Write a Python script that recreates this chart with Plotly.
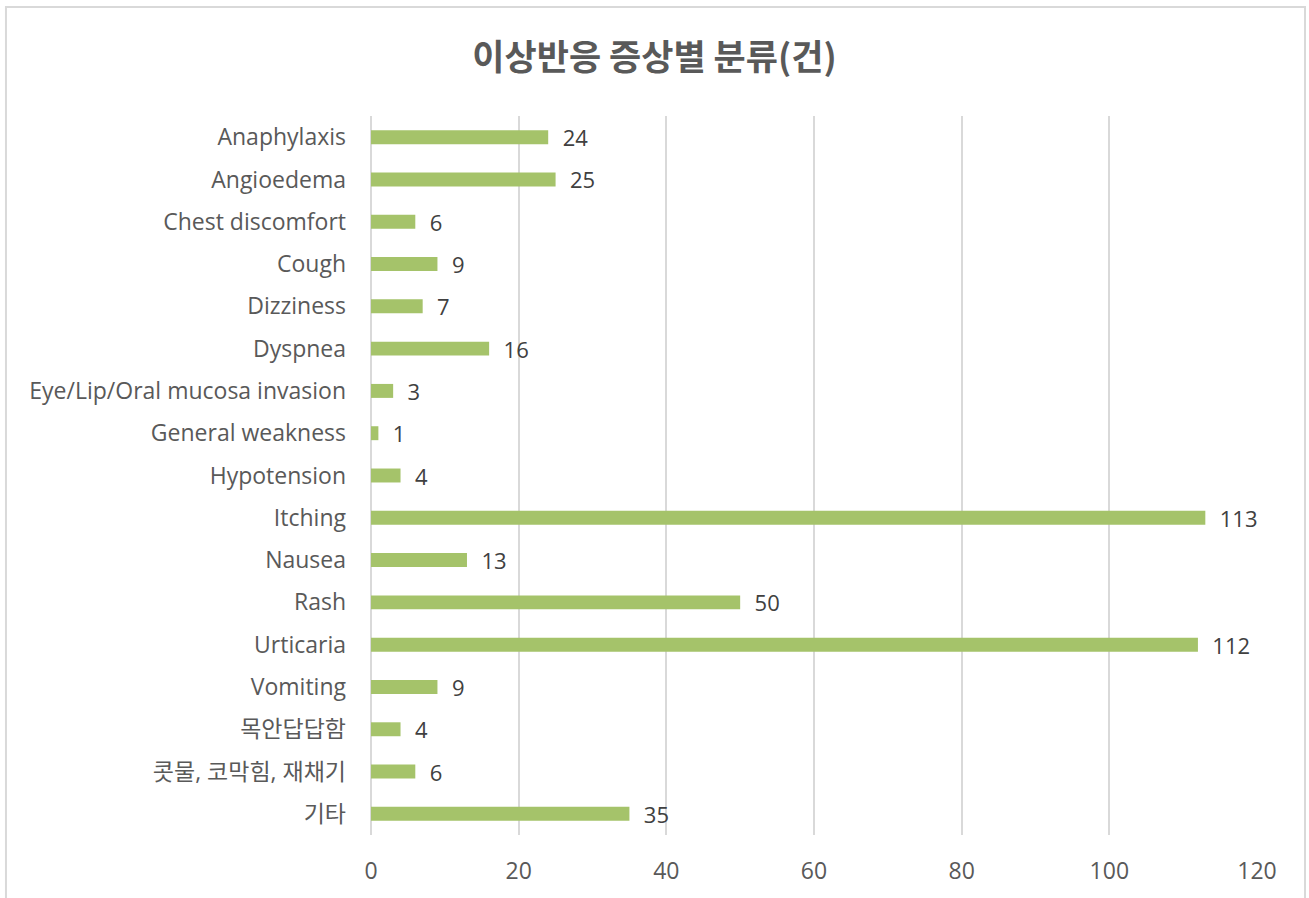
import plotly.graph_objects as go

# symptom categories (top to bottom) and counts
categories = ["Anaphylaxis", "Angioedema", "Chest discomfort", "Cough", "Dizziness",
              "Dyspnea", "Eye/Lip/Oral mucosa invasion", "General weakness", "Hypotension",
              "Itching", "Nausea", "Rash", "Urticaria", "Vomiting", "목안답답함",
              "콧물, 코막힘, 재채기", "기타"]
counts = [24, 25, 6, 9, 7, 16, 3, 1, 4, 113, 13, 50, 112, 9, 4, 6, 35]
x_ticks = [0, 20, 40, 60, 80, 100, 120]

font_family = "Open Sans, Noto Sans CJK KR, sans-serif"

fig = go.Figure()
fig.add_trace(go.Bar(
    y=categories, x=counts, orientation="h",
    marker=dict(color="#A5C36A", line=dict(width=0)),
    width=0.33,
    text=counts, texttemplate="  %{text}", textposition="outside",
    textfont=dict(size=22, color="#404040", family=font_family),
    constraintext="none", cliponaxis=False,
))

fig.update_yaxes(autorange="reversed", showgrid=False, zeroline=False,
                 tickfont=dict(size=23, color="#595959", family=font_family),
                 ticks="", ticklabelstandoff=24, showline=False)
fig.update_xaxes(range=[0, 120], tickvals=x_ticks, showgrid=True,
                 gridcolor="#D9D9D9", gridwidth=1.5,
                 zeroline=True, zerolinecolor="#D9D9D9", zerolinewidth=1.5,
                 tickfont=dict(size=23, color="#595959", family=font_family),
                 ticklabelstandoff=20, showline=False)

# chart border
fig.add_shape(type="rect", xref="paper", yref="paper", x0=-0.412, x1=1.0542,
              y0=-0.2, y1=1.1516, line=dict(color="#D9D9D9", width=2))

fig.update_layout(
    width=1309, height=898,
    margin=dict(l=371, r=52, t=116, b=63),
    paper_bgcolor="white", plot_bgcolor="white",
    title=dict(text="<b>이상반응 증상별 분류(건)</b>", x=0.5, xref="container",
               xanchor="center", y=0.936, yanchor="middle",
               font=dict(size=35, color="#595959", family="Noto Sans CJK KR, sans-serif")),
    showlegend=False, bargap=0.67,
)

fig.write_html("out.html", config={"displayModeBar": False},
               post_script="document.body.style.margin='0';")
